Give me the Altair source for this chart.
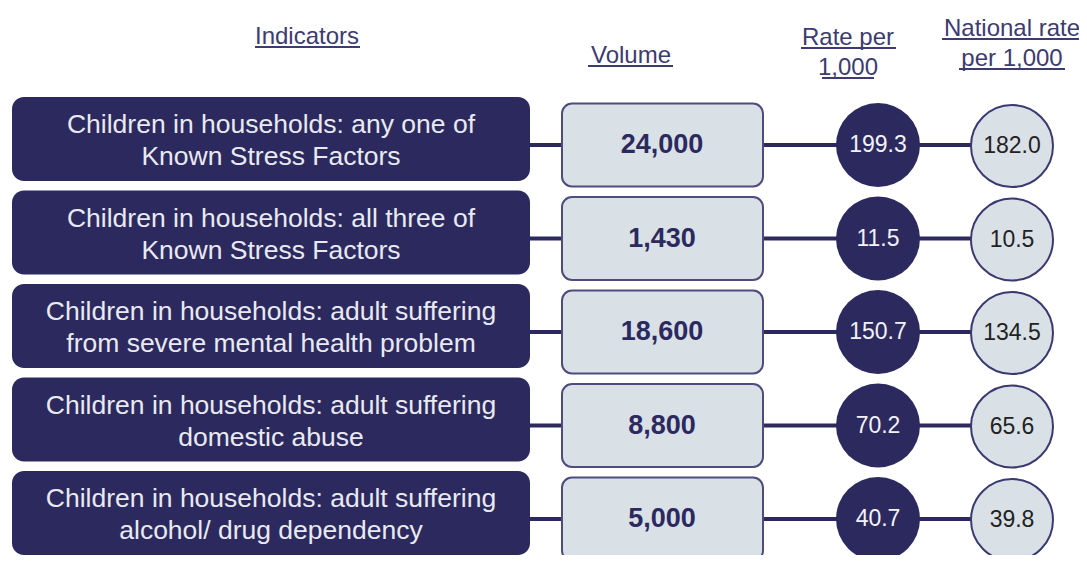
import altair as alt
import pandas as pd

# ---- data ----
labels_line1 = [
    "Children in households: any one of",
    "Children in households: all three of",
    "Children in households: adult suffering",
    "Children in households: adult suffering",
    "Children in households: adult suffering",
]
labels_line2 = [
    "Known Stress Factors",
    "Known Stress Factors",
    "from severe mental health problem",
    "domestic abuse",
    "alcohol/ drug dependency",
]
volumes = [24000, 1430, 18600, 8800, 5000]
rates = [199.3, 11.5, 150.7, 70.2, 40.7]
national_rates = [182.0, 10.5, 134.5, 65.6, 39.8]

header_texts = ["Indicators", "Volume", "Rate per", "1,000", "National rate", "per 1,000"]

# ---- styles / layout ----
NAVY = "#2c295e"
LIGHT = "#d9e1e7"
VSTROKE = "#4e4c7e"
HEAD = "#3d3b6f"
FONT = "Liberation Sans"

df = pd.DataFrame({
    "row": list(range(len(volumes))),
    "label": [a + "\n" + b for a, b in zip(labels_line1, labels_line2)],
    "vol": [f"{v:,}" for v in volumes],
    "rate": [f"{r:.1f}" for r in rates],
    "nat": [f"{r:.1f}" for r in national_rates],
})

yscale = alt.Scale(domain=[0, 4], range=[134, 508])
Y = alt.Y("row:Q", scale=yscale, axis=None)
Y2 = alt.Y2("row:Q")
base = alt.Chart(df)

connector = base.mark_rule(color=NAVY, strokeWidth=4, yOffset=3).encode(
    x=alt.value(522), x2=alt.value(1004), y=Y)

label_box = base.mark_rect(fill=NAVY, cornerRadius=12, yOffset=-45, y2Offset=39).encode(
    x=alt.value(4), x2=alt.value(522), y=Y, y2=Y2)

label_text = base.mark_text(color="#e9e9f1", fontSize=26.5, font=FONT, lineBreak="\n",
                            lineHeight=32, align="center", baseline="middle", yOffset=-17).encode(
    x=alt.value(263), y=Y, text="label:N")

vol_box = base.mark_rect(fill=LIGHT, stroke=VSTROKE, strokeWidth=2, cornerRadius=10,
                         yOffset=-38.5, y2Offset=44.5).encode(
    x=alt.value(554), x2=alt.value(755), y=Y, y2=Y2)

vol_text = base.mark_text(color=NAVY, fontSize=27, fontWeight="bold", font=FONT,
                          align="center", baseline="middle", yOffset=3).encode(
    x=alt.value(654), y=Y, text="vol:N")

dark_circle = base.mark_circle(size=7056, color=NAVY, opacity=1, yOffset=3).encode(
    x=alt.value(870), y=Y)

rate_text = base.mark_text(color="#f2f2f7", fontSize=23, font=FONT,
                           align="center", baseline="middle", yOffset=3).encode(
    x=alt.value(870), y=Y, text="rate:N")

light_circle = base.mark_circle(size=6724, fill=LIGHT, stroke="#3b3970", strokeWidth=2,
                                opacity=1, fillOpacity=1, yOffset=4).encode(
    x=alt.value(1004), y=Y)

nat_text = base.mark_text(color="#222222", fontSize=23, font=FONT,
                          align="center", baseline="middle", yOffset=4).encode(
    x=alt.value(1004), y=Y, text="nat:N")

# header layout: (center x, baseline y, underline x1, x2, underline y) in chart px
header_layout = [
    (299, 36, 247, 352, 39),
    (623, 55, 580, 665, 58),
    (840, 37, 793, 888, 40),
    (840, 67, 814, 866, 70),
    (1004, 28, 934, 1074, 31),
    (1004, 58, 951, 1057, 61),
]

header_layers = []
for txt, (cx, by, ux1, ux2, uy) in zip(header_texts, header_layout):
    hd = alt.Chart(pd.DataFrame({"t": [txt]}))
    header_layers.append(hd.mark_text(color=HEAD, fontSize=24, font=FONT, align="center",
                                      baseline="alphabetic").encode(
        x=alt.value(cx), y=alt.value(by), text="t:N"))
    header_layers.append(hd.mark_rule(color=HEAD, strokeWidth=2).encode(
        x=alt.value(ux1), x2=alt.value(ux2), y=alt.value(uy)))

chart = alt.layer(
    connector, label_box, label_text, vol_box, vol_text,
    dark_circle, rate_text, light_circle, nat_text, *header_layers
).properties(
    width=1071, height=547, padding=0, autosize=alt.AutoSizeParams(type="none"),
    background="white"
).configure_view(stroke=None)

chart.save("out.html", embed_options={"renderer": "svg", "actions": False})
